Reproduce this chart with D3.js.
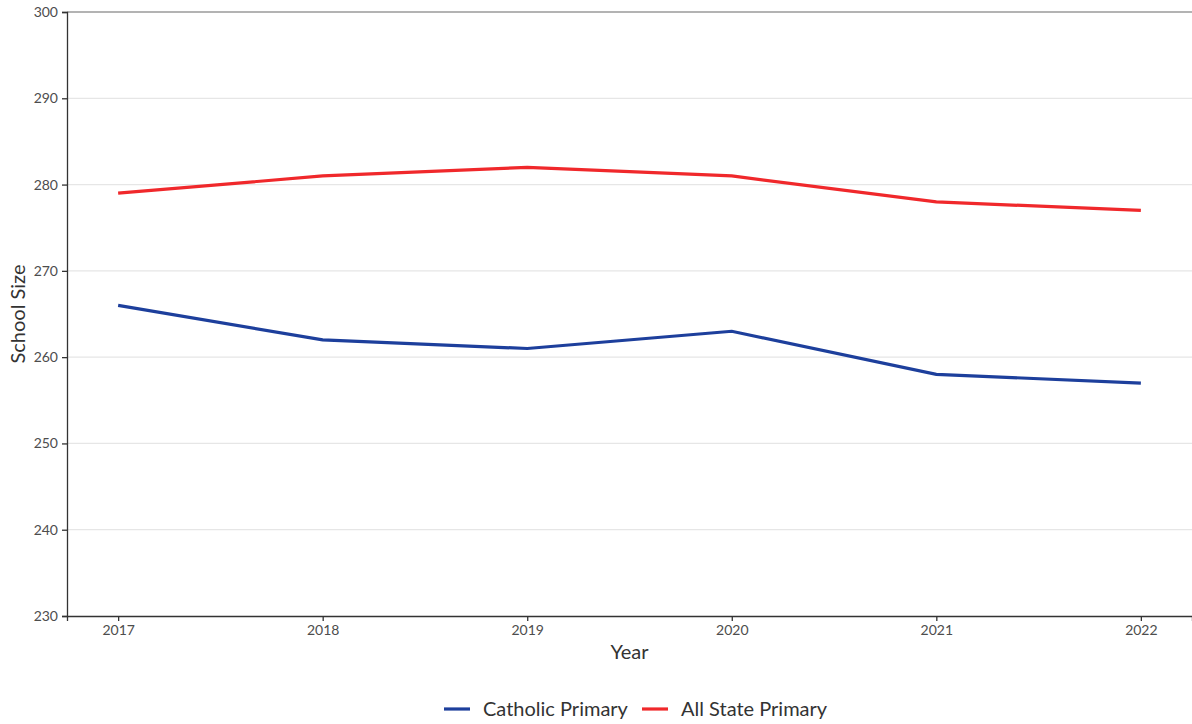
<!DOCTYPE html>
<html>
<head>
<meta charset="utf-8">
<script src="https://cdn.jsdelivr.net/npm/d3@7"></script>
<style>
  body { margin: 0; background: #fff; }
  svg text { font-family: Lato, "Open Sans", sans-serif; }
</style>
</head>
<body>
<div id="chart"></div>
<script>
// data
var years = [2017, 2018, 2019, 2020, 2021, 2022];
var catholicPrimary = [266, 262, 261, 263, 258, 257];
var allStatePrimary = [279, 281, 282, 281, 278, 277];
var yTicks = [230, 240, 250, 260, 270, 280, 290, 300];
var seriesNames = ["Catholic Primary", "All State Primary"];
var seriesColours = ["#1d3f9c", "#f0282b"];

var width = 1192, height = 724;
var margin = {top: 12, right: 0, bottom: 108, left: 67};
var innerW = width - margin.left - margin.right,
    innerH = height - margin.top - margin.bottom;

var svg = d3.select("#chart").append("svg")
    .attr("width", width)
    .attr("height", height);

var g = svg.append("g")
    .attr("transform", "translate(" + margin.left + "," + margin.top + ")");

// ggplot-like 5% expansion on x
var pad = (years[years.length - 1] - years[0]) * 0.05;
var x = d3.scaleLinear()
    .domain([years[0] - pad, years[years.length - 1] + pad])
    .range([0, innerW]);
var y = d3.scaleLinear().domain([230, 300]).range([innerH, 0]);

// gridlines
g.selectAll(".grid")
    .data(yTicks.slice(1, -1))
    .enter().append("line")
    .attr("x1", 0).attr("x2", innerW)
    .attr("y1", function(d) { return y(d); })
    .attr("y2", function(d) { return y(d); })
    .attr("stroke", "#e6e6e6")
    .attr("stroke-width", 1.2);

// top line
g.append("line")
    .attr("x1", 0).attr("x2", innerW)
    .attr("y1", y(300)).attr("y2", y(300))
    .attr("stroke", "#9a9a9a")
    .attr("stroke-width", 1.5);

// lines
var line = d3.line()
    .x(function(d, i) { return x(years[i]); })
    .y(function(d) { return y(d); });

[catholicPrimary, allStatePrimary].forEach(function(s, k) {
    g.append("path")
        .datum(s)
        .attr("d", line)
        .attr("fill", "none")
        .attr("stroke", seriesColours[k])
        .attr("stroke-width", 3.2);
});

// axes
var xAxis = g.append("g")
    .attr("transform", "translate(0," + innerH + ")")
    .call(d3.axisBottom(x).tickValues(years).tickFormat(d3.format("d")).tickSize(5).tickPadding(4));
var yAxis = g.append("g")
    .call(d3.axisLeft(y).tickValues(yTicks).tickSize(5).tickPadding(4));

[xAxis, yAxis].forEach(function(a) {
    a.select(".domain").attr("stroke", "#333").attr("stroke-width", 1.3);
    a.selectAll(".tick line").attr("stroke", "#333").attr("stroke-width", 1.3);
    a.selectAll(".tick text").attr("fill", "#4d4d4d").style("font-size", "14px");
});

// axis titles
svg.append("text")
    .attr("x", margin.left + innerW / 2)
    .attr("y", 659)
    .attr("text-anchor", "middle")
    .attr("fill", "#333")
    .style("font-size", "20px")
    .text("Year");

svg.append("text")
    .attr("transform", "translate(25," + (margin.top + innerH / 2) + ") rotate(-90)")
    .attr("text-anchor", "middle")
    .attr("fill", "#333")
    .style("font-size", "20px")
    .text("School Size");

// legend
var legend = svg.append("g").attr("transform", "translate(444,709)");
var offsets = [0, 198];
seriesNames.forEach(function(name, k) {
    var lg = legend.append("g").attr("transform", "translate(" + offsets[k] + ",0)");
    lg.append("line")
        .attr("x1", 0).attr("x2", 26)
        .attr("y1", 0).attr("y2", 0)
        .attr("stroke", seriesColours[k])
        .attr("stroke-width", 3.2);
    lg.append("text")
        .attr("x", 39)
        .attr("y", 7)
        .attr("fill", "#333")
        .style("font-size", "20px")
        .text(name);
});
</script>
</body>
</html>
